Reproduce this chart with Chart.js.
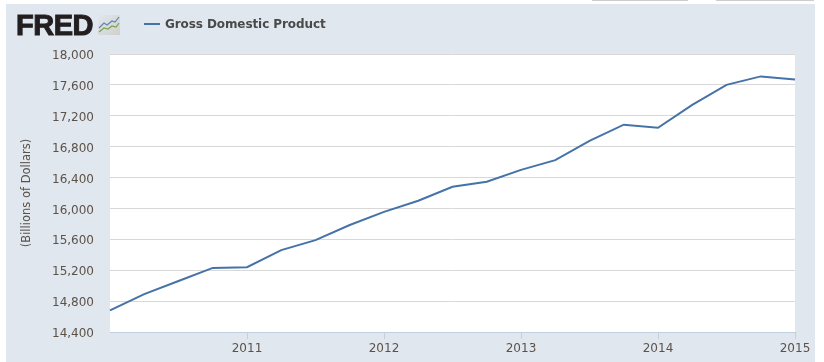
<!DOCTYPE html>
<html><head><meta charset="utf-8">
<script src="https://cdn.jsdelivr.net/npm/chart.js@4"></script>
<style>
html,body{margin:0;padding:0;background:#fff;width:824px;height:362px;overflow:hidden}
#panel{position:absolute;left:6px;top:4px;width:809px;height:358px;background:#e0e7ef}
.tab{position:absolute;top:0;height:1px;background:#ccc}
#c{position:absolute;left:0;top:0}
#logo{position:absolute;left:16px;top:9px;font:bold 29px "Liberation Sans",sans-serif;color:#231f20;-webkit-text-stroke:1px #231f20;letter-spacing:-.5px;line-height:32px}
#icon{position:absolute;left:98px;top:15px}
#legend{position:absolute;left:144px;top:16px;font:bold 12px "DejaVu Sans",sans-serif;color:#4a4a4a;line-height:16px;white-space:nowrap;letter-spacing:-.09px}
#legend i{display:inline-block;width:16px;height:2px;background:#4572a7;vertical-align:middle;margin:-2px 5px 0 0}
</style></head><body>
<div id="panel"></div><div class="tab" style="left:592px;width:96px"></div><div class="tab" style="left:716px;width:98px"></div>
<canvas id="c" width="824" height="362"></canvas>
<div id="logo">FRED</div>
<svg id="icon" width="22" height="20" viewBox="0 0 22 20"><defs><linearGradient id="g" x1="0" y1="0" x2="1" y2="1"><stop offset="0" stop-color="#e0e7ef"/><stop offset="1" stop-color="#d0d0cc"/></linearGradient></defs><rect width="22" height="20" fill="url(#g)"/><polyline points="1,13 6,8 9,10 14,6 17,7 21,2" fill="none" stroke="#5f86ac" stroke-width="1.2"/><polyline points="1,17 6,13 10,14 14,11 18,12 21,8" fill="none" stroke="#7aa34e" stroke-width="1.2"/></svg>
<div id="legend"></div>
<script>
const seriesName = "Gross Domestic Product";
const axisTitle = "(Billions of Dollars)";
const quarters = [2010,2010.25,2010.5,2010.75,2011,2011.25,2011.5,2011.75,2012,2012.25,2012.5,2012.75,2013,2013.25,2013.5,2013.75,2014,2014.25,2014.5,2014.75,2015];
const gdp = [14680,14890,15060,15230,15240,15460,15590,15785,15955,16100,16280,16345,16500,16625,16875,17085,17045,17340,17600,17710,17670];
const yearTicks = [2011,2012,2013,2014,2015];
const yMin = 14400, yMax = 18000, yStep = 400;

document.getElementById('legend').innerHTML = '<i></i>' + seriesName;
const labelColor = '#5c5248';
const font = {family:'"DejaVu Sans",sans-serif',size:12};
const plotBg = {id:'plotBg',beforeDraw(ch){const a=ch.chartArea,c=ch.ctx;c.save();c.fillStyle='#fff';c.fillRect(a.left,a.top,a.right-a.left,a.bottom-a.top);c.restore();}};
new Chart(document.getElementById('c'),{
  type:'line',
  data:{datasets:[{label:seriesName,data:quarters.map((q,i)=>({x:q,y:gdp[i]})),borderColor:'#4572a7',borderWidth:2,pointRadius:0,tension:0,fill:false,clip:false}]},
  plugins:[plotBg],
  options:{
    responsive:false,animation:false,
    layout:{padding:{left:0,right:29,top:54,bottom:0}},
    plugins:{legend:{display:false},tooltip:{enabled:false}},
    scales:{
      x:{type:'linear',min:2010,max:2015,
        afterBuildTicks(s){s.ticks=yearTicks.map(v=>({value:v}));},
        afterFit(s){s.height=30;},
        border:{color:'#c0d0e0',width:1},
        grid:{drawOnChartArea:false,color:'#c0d0e0',tickLength:7},
        ticks:{font,color:labelColor,padding:3,maxRotation:0,autoSkip:false,callback:v=>String(v)}},
      y:{type:'linear',min:yMin,max:yMax,
        afterFit(s){s.width=110;},
        border:{display:false},
        grid:{color:'#d8d8d8',lineWidth:1,drawTicks:false},
        ticks:{font,color:labelColor,padding:16,labelOffset:2,stepSize:yStep,callback:v=>v.toLocaleString('en-US')},
        title:{display:true,text:axisTitle,color:labelColor,font:{family:'"DejaVu Sans",sans-serif',size:11.5},padding:{top:20,bottom:0}}}
    }
  }
});
</script>
</body></html>
